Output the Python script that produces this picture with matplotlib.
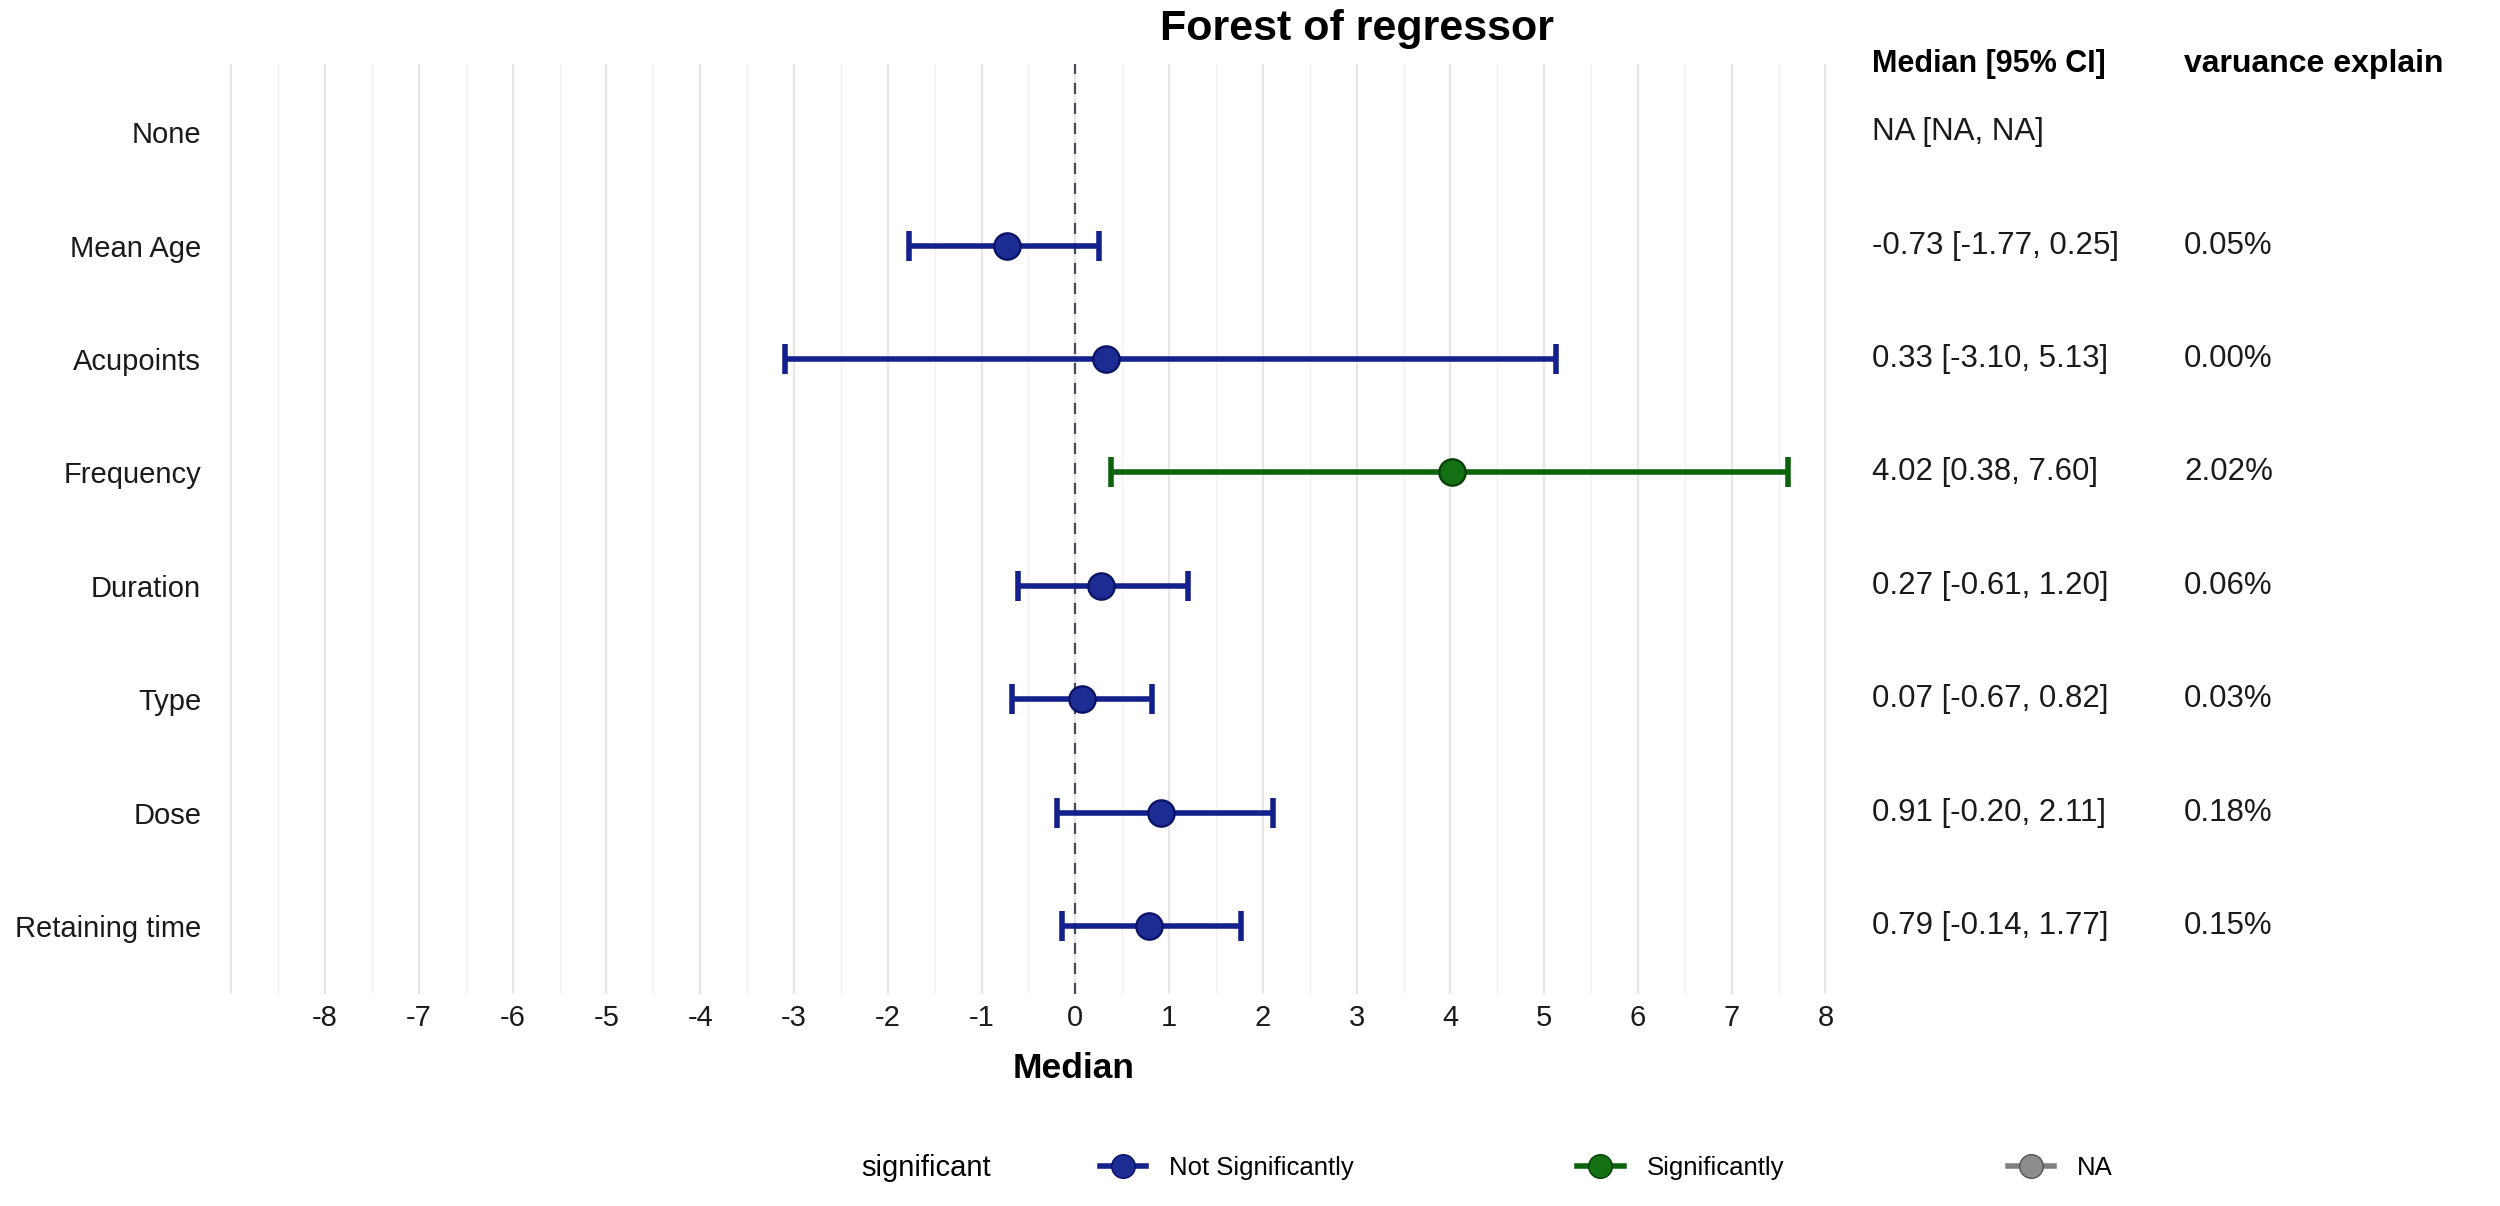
"""
Forest of regressor - forest plot with text columns
"""

import numpy as np
import matplotlib
matplotlib.use("Agg")
import matplotlib.pyplot as plt
from matplotlib.lines import Line2D
import matplotlib.transforms as mtransforms


# ---------- Data ----------
regressors = ["None", "Mean Age", "Acupoints", "Frequency", "Duration",
              "Type", "Dose", "Retaining time"]
median = [np.nan, -0.73, 0.33, 4.02, 0.27, 0.07, 0.91, 0.79]
ci_low = [np.nan, -1.77, -3.10, 0.38, -0.61, -0.67, -0.20, -0.14]
ci_high = [np.nan, 0.25, 5.13, 7.60, 1.20, 0.82, 2.11, 1.77]
var_explain = [np.nan, 0.05, 0.00, 2.02, 0.06, 0.03, 0.18, 0.15]
significant = ["NA", "Not Significantly", "Not Significantly", "Significantly",
               "Not Significantly", "Not Significantly", "Not Significantly",
               "Not Significantly"]
x_ticks = list(range(-8, 9))

# ---------- Style ----------
plt.rcParams["font.family"] = ["Liberation Sans", "DejaVu Sans"]
plt.rcParams["axes.unicode_minus"] = False

line_col = {"Not Significantly": "#14218c", "Significantly": "#0b640b", "NA": "#808080"}
fill_col = {"Not Significantly": "#1c2c92", "Significantly": "#137013", "NA": "#8c8c8c"}
edge_col = {"Not Significantly": "#0a1266", "Significantly": "#053d05", "NA": "#555555"}
text_col = "#1a1a1a"

fig = plt.figure(figsize=(25, 12.06), dpi=100)
ax = fig.add_axes([0.0888, 0.1758, 0.6564, 0.771])

n = len(regressors)
ypos = np.arange(n)[::-1]

# grid (major at integers, minor at halves)
for x in np.arange(-9, 8.51, 0.5):
    major = float(x).is_integer()
    ax.axvline(x, color="#e6e6e6" if major else "#f0f0f0",
               lw=1.6 if major else 1.0, zorder=0)

ax.axvline(0, color="#4a4a5a", lw=1.6, ls=(0, (5, 4)), zorder=1)

for i in range(n):
    if np.isnan(median[i]):
        continue
    grp = significant[i]
    ax.errorbar(median[i], ypos[i],
                xerr=[[median[i] - ci_low[i]], [ci_high[i] - median[i]]],
                fmt="none", ecolor=line_col[grp], elinewidth=4,
                capsize=11, capthick=4, zorder=2)
    ax.plot(median[i], ypos[i], "o", ms=19, mfc=fill_col[grp],
            mec=edge_col[grp], mew=1.6, zorder=3)

ax.set_xlim(-9.1, 8.4)
ax.set_ylim(-0.6, n - 1 + 0.6)
ax.set_xticks(x_ticks)
ax.set_xticklabels([str(t) for t in x_ticks])
ax.set_yticks(ypos)
ax.set_yticklabels(regressors)
ax.tick_params(axis="both", length=0, labelsize=21, colors=text_col)
ax.tick_params(axis="y", pad=15)
ax.tick_params(axis="x", pad=7)
for s in ax.spines.values():
    s.set_visible(False)

# ---------- Text columns ----------
trans = mtransforms.blended_transform_factory(fig.transFigure, ax.transData)
col1_x, col2_x = 0.749, 0.8736
ax.text(col1_x, n - 1 + 0.6, "Median [95% CI]", transform=trans, ha="left",
        va="center", fontsize=22, fontweight="bold", color="black")
ax.text(col2_x, n - 1 + 0.6, "varuance explain", transform=trans, ha="left",
        va="center", fontsize=23, fontweight="bold", color="black")
for i in range(n):
    if np.isnan(median[i]):
        ci_txt, var_txt = "NA [NA, NA]", ""
    else:
        ci_txt = f"{median[i]:.2f} [{ci_low[i]:.2f}, {ci_high[i]:.2f}]"
        var_txt = f"{var_explain[i]:.2f}%"
    ax.text(col1_x, ypos[i], ci_txt, transform=trans, ha="left", va="center",
            fontsize=22.5, color=text_col)
    ax.text(col2_x, ypos[i], var_txt, transform=trans, ha="left", va="center",
            fontsize=22.5, color=text_col)

# ---------- Titles ----------
fig.text(0.543, 0.976, "Forest of regressor", ha="center", va="center",
         fontsize=31, fontweight="bold")
fig.text(0.4296, 0.1144, "Median", ha="center", va="center",
         fontsize=25.5, fontweight="bold")

# ---------- Legend ----------
fig.text(0.3444, 0.0315, "significant", ha="left", va="center", fontsize=21)
groups = ["Not Significantly", "Significantly", "NA"]
handles = [Line2D([], [], color=line_col[g], lw=4, marker="o", ms=17,
                  mfc=fill_col[g], mec=edge_col[g]) for g in groups]
fig.legend(handles, groups, loc="center left", bbox_to_anchor=(0.4306, 0.0315),
           ncol=3, frameon=False, fontsize=18.5, handlelength=1.8,
           handletextpad=0.9, columnspacing=8.7)

fig.savefig("out.png", dpi=100, facecolor="white")
